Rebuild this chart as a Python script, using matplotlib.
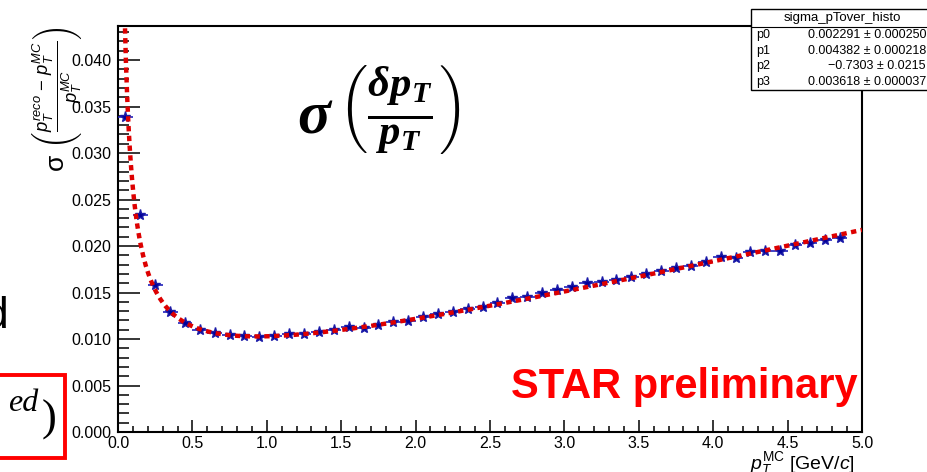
import matplotlib
matplotlib.use('Agg')
import matplotlib.pyplot as plt
import numpy as np
from matplotlib.patches import Rectangle
from matplotlib.lines import Line2D
from matplotlib.ticker import MultipleLocator, FormatStrFormatter

plt.rcParams['font.family'] = ['Liberation Sans', 'DejaVu Sans']
plt.rcParams['mathtext.fontset'] = 'custom'
plt.rcParams['mathtext.rm'] = 'Liberation Sans'
plt.rcParams['mathtext.it'] = 'Liberation Sans:italic'
plt.rcParams['mathtext.bf'] = 'Liberation Sans:bold'
plt.rcParams['mathtext.bfit'] = 'Liberation Serif:italic:bold'

# resolution sigma(pT) per 100 MeV bin
pt_centers = [0.05, 0.15, 0.25, 0.35, 0.45, 0.55, 0.65, 0.75, 0.85, 0.95,
              1.05, 1.15, 1.25, 1.35, 1.45, 1.55, 1.65, 1.75, 1.85, 1.95,
              2.05, 2.15, 2.25, 2.35, 2.45, 2.55, 2.65, 2.75, 2.85, 2.95,
              3.05, 3.15, 3.25, 3.35, 3.45, 3.55, 3.65, 3.75, 3.85, 3.95,
              4.05, 4.15, 4.25, 4.35, 4.45, 4.55, 4.65, 4.75, 4.85]
sigma_pt = [0.0339, 0.0233, 0.0158, 0.0129, 0.0117, 0.0110, 0.0106, 0.0104, 0.01034, 0.01025,
            0.01034, 0.01058, 0.01058, 0.01074, 0.01097, 0.01133, 0.01122, 0.01151, 0.01179, 0.01194,
            0.01240, 0.01273, 0.01287, 0.01323, 0.01348, 0.01384, 0.01437, 0.01448, 0.01498, 0.01527,
            0.01556, 0.01599, 0.01608, 0.01638, 0.01670, 0.01699, 0.01731, 0.01760, 0.01785, 0.01825,
            0.01878, 0.01868, 0.01939, 0.01949, 0.01946, 0.02011, 0.02035, 0.02065, 0.02083]
bin_width = 0.1

# fit: p0 + p1*pT^p2 + p3*pT
par_names = ['p0', 'p1', 'p2', 'p3']
par_values = [0.002291, 0.004382, -0.7303, 0.003618]
par_errors = ['0.000250', '0.000218', '0.0215', '0.000037']
par_labels = ['0.002291', '0.004382', '\u22120.7303', '0.003618']

W, H = 927, 472


def fx(px):
    return px / W


def fy(py):
    return 1 - py / H


fig = plt.figure(figsize=(W / 100, H / 100), dpi=100)
ax = fig.add_axes([fx(118), fy(432), fx(862) - fx(118), fy(26) - fy(432)])

ax.errorbar(pt_centers, sigma_pt, xerr=bin_width / 2, fmt='*', ms=8,
            color='#000099', mec='#1a1aa8', ecolor='#2222bb', elinewidth=1.2,
            capsize=0, zorder=3)

p0, p1, p2, p3 = par_values
xf = np.linspace(0.02, 5.0, 600)
ax.plot(xf, p0 + p1 * xf ** p2 + p3 * xf, color='#dd0000', lw=3.2,
        dashes=(1.2, 1.0), zorder=4)

ax.set_xlim(0, 5.0)
ax.set_ylim(0, 0.04366)
ax.xaxis.set_major_locator(MultipleLocator(0.5))
ax.xaxis.set_minor_locator(MultipleLocator(0.1))
ax.yaxis.set_major_locator(MultipleLocator(0.005))
ax.yaxis.set_minor_locator(MultipleLocator(0.001))
ax.xaxis.set_major_formatter(FormatStrFormatter('%.1f'))
ax.yaxis.set_major_formatter(FormatStrFormatter('%.3f'))
ax.tick_params(axis='y', which='major', direction='in', length=15.8, width=1.1,
               labelsize=11.5, pad=5)
ax.tick_params(axis='y', which='minor', direction='in', length=7.9, width=1.1)
ax.tick_params(axis='x', which='major', direction='in', length=8.6, width=1.1,
               labelsize=11.5, pad=3)
ax.tick_params(axis='x', which='minor', direction='in', length=4.3, width=1.1)
for s in ax.spines.values():
    s.set_linewidth(1.5)

# axis titles
fig.text(fx(855), fy(469), r'$p_{T}^{\mathrm{MC}}$ [GeV/$c$]', ha='right',
         va='baseline', fontsize=14)
fig.text(fx(57), fy(26), r'$\mathrm{\sigma}\ \left(\frac{p_{T}^{reco}\ \mathrm{-}\ p_{T}^{MC}}{p_{T}^{MC}}\right)$',
         rotation=90, ha='center', va='top', fontsize=19)

# big formula
fig.text(fx(379), fy(110), r'$\mathbfit{\sigma}\,\left(\frac{\mathbfit{\delta p_T}}{\mathbfit{p_T}}\right)$',
         ha='center', va='center', fontsize=44)

fig.text(fx(858), fy(398), 'STAR preliminary', color='#ff0000', fontsize=30,
         fontweight='bold', ha='right', va='baseline')

# stats box
fig.add_artist(Rectangle((fx(751), fy(90)), fx(940) - fx(751), fy(9) - fy(90),
                         transform=fig.transFigure, fc='white', ec='black', lw=1.0,
                         zorder=5))
fig.add_artist(Line2D([fx(751), fx(940)], [fy(27), fy(27)], transform=fig.transFigure,
                      color='black', lw=0.8, zorder=6))
fig.text(fx(842), fy(18), 'sigma_pTover_histo', ha='center', va='center',
         fontsize=9.5, zorder=6)
row_y = [35, 51, 66, 82]
for name, val, err, ry in zip(par_names, par_labels, par_errors, row_y):
    fig.text(fx(756), fy(ry), name, ha='left', va='center', fontsize=9, zorder=6)
    fig.text(fx(926), fy(ry), f'{val} \u00b1 {err}', ha='right', va='center',
             fontsize=9, zorder=6)

# slide pieces at the left edge
fig.text(fx(7.5), fy(328), 'd', ha='right', va='baseline', fontsize=32)
fig.add_artist(Rectangle((fx(-20), fy(458)), fx(65) + 20 / W, fy(375) - fy(458),
                         transform=fig.transFigure, fc='none', ec='#ff0000', lw=2.8))
fig.text(fx(38), fy(411), 'ed', ha='right', va='baseline', fontsize=23,
         family='Liberation Serif', style='italic')
fig.text(fx(49), fy(420), ')', ha='center', va='center', fontsize=32,
         family='Liberation Serif')

fig.savefig('out.png', dpi=100)
